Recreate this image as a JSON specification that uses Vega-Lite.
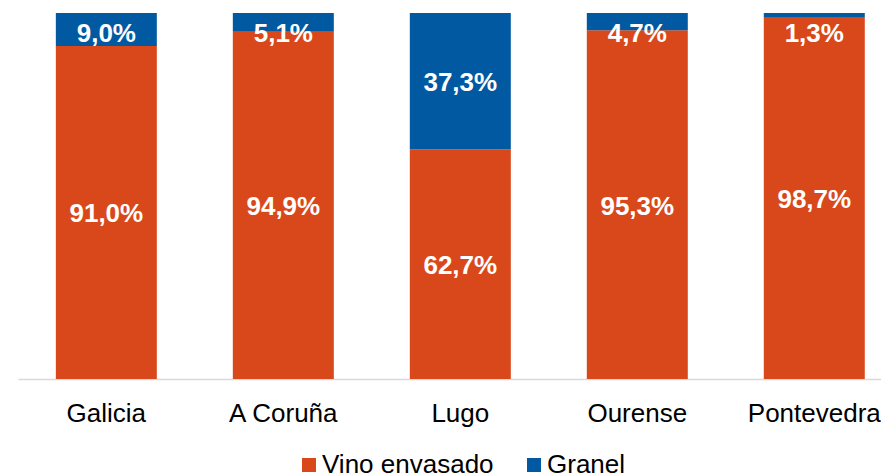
{
  "$schema": "https://vega.github.io/schema/vega-lite/v6.json",
  "width": 863,
  "height": 366,
  "autosize": {"type": "none"},
  "padding": {"left": 18, "top": 13, "right": 0, "bottom": 95},
  "background": "white",
  "config": {
    "view": {"stroke": null},
    "font": "Liberation Sans",
    "locale": {"number": {"decimal": ",", "thousands": ".", "grouping": [3], "currency": ["", " €"]}}
  },
  "data": {
    "values": [
      {"region": "Galicia", "tipo": "Vino envasado", "valor": 0.910},
      {"region": "Galicia", "tipo": "Granel", "valor": 0.090},
      {"region": "A Coruña", "tipo": "Vino envasado", "valor": 0.949},
      {"region": "A Coruña", "tipo": "Granel", "valor": 0.051},
      {"region": "Lugo", "tipo": "Vino envasado", "valor": 0.627},
      {"region": "Lugo", "tipo": "Granel", "valor": 0.373},
      {"region": "Ourense", "tipo": "Vino envasado", "valor": 0.953},
      {"region": "Ourense", "tipo": "Granel", "valor": 0.047},
      {"region": "Pontevedra", "tipo": "Vino envasado", "valor": 0.987},
      {"region": "Pontevedra", "tipo": "Granel", "valor": 0.013}
    ]
  },
  "transform": [
    {"stack": "valor", "groupby": ["region"], "sort": [{"field": "tipo", "order": "descending"}], "as": ["v0", "v1"], "offset": "normalize"},
    {"calculate": "(datum.v0 + datum.v1) / 2", "as": "mid"},
    {"calculate": "datum.tipo == 'Granel' ? min(datum.mid, 0.948) : datum.mid", "as": "ypos"}
  ],
  "encoding": {
    "x": {
      "field": "region",
      "type": "nominal",
      "sort": ["Galicia", "A Coruña", "Lugo", "Ourense", "Pontevedra"],
      "scale": {"paddingInner": 0.4294, "paddingOuter": 0.1527, "align": 0.7},
      "axis": {
        "title": null,
        "labelAngle": 0,
        "labelFontSize": 26,
        "labelColor": "#000000",
        "labelFont": "Liberation Sans",
        "labelBaseline": "alphabetic",
        "labelPadding": 42,
        "labelLimit": 0,
        "ticks": false,
        "tickSize": 0,
        "domainColor": "#d9d9d9",
        "domainWidth": 1.5,
        "grid": false
      }
    }
  },
  "layer": [
    {
      "mark": {"type": "bar"},
      "encoding": {
        "y": {"field": "v0", "type": "quantitative", "scale": {"domain": [0, 1], "nice": false}, "axis": null},
        "y2": {"field": "v1"},
        "color": {
          "field": "tipo",
          "type": "nominal",
          "scale": {"domain": ["Vino envasado", "Granel"], "range": ["#D9481A", "#0059A1"]},
          "legend": {
            "title": null,
            "orient": "none",
            "direction": "horizontal",
            "legendX": 278,
            "legendY": 439,
            "symbolType": "square",
            "symbolSize": 196,
            "symbolStrokeWidth": 0,
            "labelFontSize": 26,
            "labelFont": "Liberation Sans",
            "labelColor": "#000000",
            "labelOffset": 0,
            "labelLimit": 0,
            "columnPadding": 27,
            "padding": 0
          }
        }
      }
    },
    {
      "mark": {"type": "text", "fontSize": 26, "fontWeight": "bold", "color": "white", "baseline": "middle", "align": "center", "font": "Liberation Sans", "dy": 2},
      "encoding": {
        "y": {"field": "ypos", "type": "quantitative", "scale": {"domain": [0, 1], "nice": false}},
        "text": {"field": "valor", "type": "quantitative", "format": ".1%"}
      }
    }
  ]
}
